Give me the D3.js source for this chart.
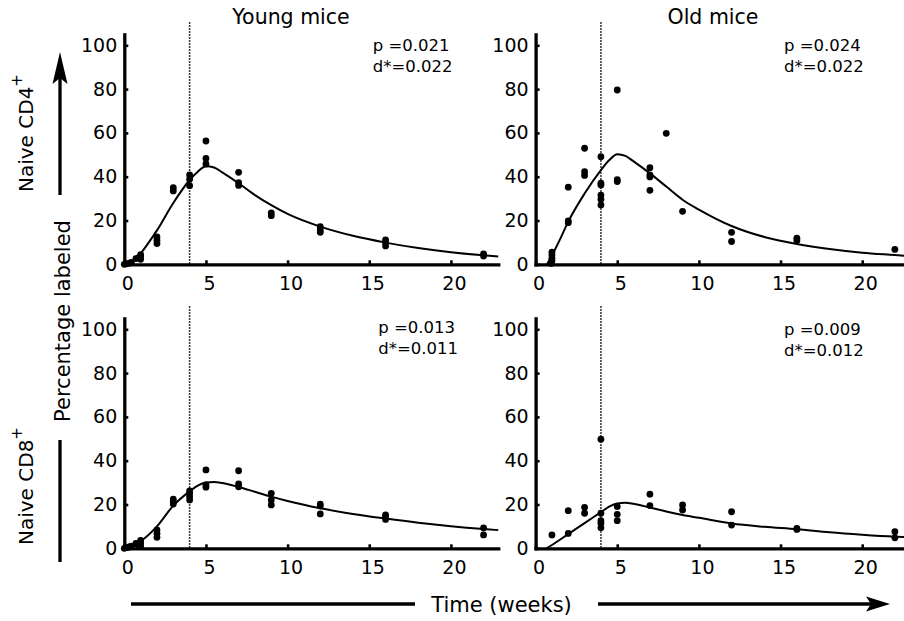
<!DOCTYPE html>
<html>
<head>
<meta charset="utf-8">
<script src="https://cdn.jsdelivr.net/npm/d3@7"></script>
<style>
  body { margin: 0; background: #fff; }
  svg { display: block; font-family: "DejaVu Sans", sans-serif; }
</style>
</head>
<body>
<svg width="904" height="621"></svg>
<script>
// observed points [weeks, % labeled]
const youngCD4Obs = [[0,0],[0.14,0.2],[0.29,0.5],[0.43,0.9],[0.71,2.6],[0.86,2.9],[1,3.6],[1,2.3],[1,4.4],
  [2,12.5],[2,11],[2,9.5],[3,35],[3,33.5],[4,40.8],[4,38.8],[4,35.9],[5,56.3],[5,48.3],[5,45.8],
  [7,42],[7,37.3],[7,36],[9,23.5],[9,22.2],[12,17.2],[12,15.7],[12,14.6],[16,11.1],[16,9.9],[16,8.4],
  [22,4.8],[22,3.8]];
const oldCD4Obs = [[1,5.5],[1,4.2],[1,2.8],[1,1.5],[0.95,0.4],[2,35.2],[2,19.8],[2,19],
  [3,53],[3,42.3],[3,40.6],[4,49.1],[4,37],[4,36.2],[4,31.6],[4,29.7],[4,27.1],[5,79.6],[5,38.6],[5,37.8],
  [7,44.1],[7,40.8],[7,39.9],[7,33.8],[8,59.8],[9,24.2],[12,14.6],[12,10.4],[16,11.9],[16,10.9],[22,6.8]];
const youngCD8Obs = [[0,0],[0.14,0.3],[0.29,0.6],[0.43,1],[0.71,2.2],[0.86,1.4],[1,3.6],[1,2.4],[1,1],
  [2,8.4],[2,6.8],[2,5],[3,22.4],[3,21.3],[3,20.2],[4,26.2],[4,25.1],[4,23.6],[4,22.1],[5,35.8],[5,28.9],[5,27.9],
  [7,35.4],[7,29.4],[7,28.1],[9,25.1],[9,22.1],[9,19.8],[12,20.2],[12,19.3],[12,15.7],[16,15.2],[16,14.4],[16,13.2],
  [22,9.3],[22,6.1]];
const oldCD8Obs = [[1,6.1],[2,17.2],[2,6.8],[3,18.7],[3,16],[4,49.8],[4,16],[4,12.6],[4,11.4],[4,9.4],
  [5,19],[5,15.5],[5,12.6],[7,24.7],[7,19.5],[9,19.8],[9,17.5],[12,16.7],[12,10.6],[16,9.1],[16,8.6],[22,7.6],[22,4.8]];

// fitted curves
const youngCD4Fit = [[0,0],[0.5,1.5],[1,5],[1.5,10],[2,15.5],[3,28],[4,38.5],[4.5,42.3],[5,44.8],[5.5,44.2],[6,42],
  [7,37],[8,31.6],[9,27],[10,23],[12,17.2],[14,13],[16,9.9],[18,7.4],[20,5.5],[22,4.1],[22.9,3.6]];
const oldCD4Fit = [[0.7,0],[1,4],[1.5,11.5],[2,19.5],[3,32.3],[4,43],[4.5,47.5],[5,50.3],[5.5,49.5],[6,47],
  [7,41.5],[8,35.5],[9,29.5],[10,25],[12,17.5],[14,12.5],[16,9.3],[18,7],[20,5.3],[22,4.2],[22.9,3.7]];
const youngCD8Fit = [[0,0],[0.5,1],[1,3.2],[2,10],[3,19.5],[4,26],[4.5,28.6],[5,30],[5.5,30.3],[6,29.8],
  [7,28],[8,25.8],[9,23.6],[10,21.6],[12,18.3],[14,15.7],[16,13.6],[18,11.7],[20,10.1],[22,8.8],[22.9,8.3]];
const oldCD8Fit = [[0.65,0],[1,1.5],[2,6.5],[3,11.5],[4,16.5],[4.5,19],[5,20.5],[5.5,20.8],[6,20.3],
  [7,18.6],[8,16.8],[9,15.2],[10,13.9],[12,11.3],[14,9.8],[16,8.7],[18,7.3],[20,6.2],[22,5.3],[22.9,5]];

const pValues = ['0.021', '0.024', '0.013', '0.009'];
const dValues = ['0.022', '0.022', '0.011', '0.012'];
const xTicks = [0, 5, 10, 15, 20];
const yTicks = [0, 20, 40, 60, 80, 100];
const labelEnd = 4; // end of labelling (weeks)

const svg = d3.select('svg');

const panels = [
  {obs: youngCD4Obs, fit: youngCD4Fit, x0: 124.3, y0: 264.3, tx: 248.4, ty: 51},
  {obs: oldCD4Obs, fit: oldCD4Fit, x0: 535.6, y0: 264.3, tx: 248.4, ty: 51},
  {obs: youngCD8Obs, fit: youngCD8Fit, x0: 124.3, y0: 548.3, tx: 254, ty: 332.5},
  {obs: oldCD8Obs, fit: oldCD8Fit, x0: 535.6, y0: 548.3, tx: 248.4, ty: 335}
];

panels.forEach((p, i) => {
  const x = d3.scaleLinear().domain([0, 22.9]).range([p.x0, p.x0 + 22.9 * 16.33]);
  const y = d3.scaleLinear().domain([0, 105]).range([p.y0, p.y0 - 105 * 2.19]);
  const g = svg.append('g');

  // dotted line at end of labelling
  g.append('line')
    .attr('x1', x(labelEnd)).attr('x2', x(labelEnd))
    .attr('y1', y(105) - 12).attr('y2', y(0))
    .attr('stroke', '#000').attr('stroke-width', 1.6)
    .attr('stroke-dasharray', '1.5,1.5');

  const yAxis = g.append('g')
    .attr('transform', `translate(${x(0)},0)`)
    .call(d3.axisLeft(y).tickValues(yTicks).tickSizeInner(-4).tickSizeOuter(0).tickPadding(7));
  const xAxis = g.append('g')
    .attr('transform', `translate(0,${y(0)})`)
    .call(d3.axisBottom(x).tickValues(xTicks).tickSizeInner(-4).tickSizeOuter(0).tickPadding(12));

  [yAxis, xAxis].forEach(a => {
    a.select('.domain').attr('stroke-width', 3.3).attr('stroke-linecap', 'square');
    a.selectAll('.tick line').attr('stroke-width', 2.6);
    a.selectAll('.tick text').attr('font-size', 19).attr('font-family', 'DejaVu Sans').attr('fill', '#000');
  });
  xAxis.selectAll('.tick text').attr('dx', 3);

  const line = d3.line().x(d => x(d[0])).y(d => y(d[1])).curve(d3.curveMonotoneX);
  g.append('path')
    .attr('d', line(p.fit))
    .attr('fill', 'none').attr('stroke', '#000').attr('stroke-width', 2);

  g.selectAll('circle')
    .data(p.obs)
    .enter().append('circle')
    .attr('cx', d => x(d[0]))
    .attr('cy', d => y(d[1]))
    .attr('r', 3.4)
    .attr('fill', '#000');

  const t = g.append('text')
    .attr('font-size', 16.5).attr('fill', '#000');
  t.append('tspan').attr('x', p.x0 + p.tx).attr('y', p.ty).text('p =' + pValues[i]);
  t.append('tspan').attr('x', p.x0 + p.tx).attr('y', p.ty + 21).text('d*=' + dValues[i]);
});

// column titles
svg.append('text').attr('x', 291).attr('y', 24).attr('text-anchor', 'middle')
  .attr('font-size', 20.5).text('Young mice');
svg.append('text').attr('x', 713).attr('y', 24).attr('text-anchor', 'middle')
  .attr('font-size', 20.5).text('Old mice');

// row labels
const row1 = svg.append('text').attr('transform', 'translate(33,192) rotate(-90)').attr('font-size', 20);
row1.append('tspan').text('Naive CD4');
row1.append('tspan').attr('dy', -11).attr('font-size', 15).text('+');
const row2 = svg.append('text').attr('transform', 'translate(33,545) rotate(-90)').attr('font-size', 20);
row2.append('tspan').text('Naive CD8');
row2.append('tspan').attr('dy', -11).attr('font-size', 15).text('+');

svg.append('text').attr('transform', 'translate(70,321) rotate(-90)')
  .attr('text-anchor', 'middle').attr('font-size', 21).text('Percentage labeled');
svg.append('text').attr('x', 501.5).attr('y', 612)
  .attr('text-anchor', 'middle').attr('font-size', 21).text('Time (weeks)');

// arrows
const arrows = svg.append('g').attr('stroke', '#000').attr('stroke-width', 3.3);
arrows.append('line').attr('x1', 60).attr('x2', 60).attr('y1', 195).attr('y2', 75);
arrows.append('line').attr('x1', 60).attr('x2', 60).attr('y1', 440).attr('y2', 562);
arrows.append('line').attr('x1', 131).attr('x2', 415).attr('y1', 604).attr('y2', 604);
arrows.append('line').attr('x1', 598).attr('x2', 872).attr('y1', 604).attr('y2', 604);
svg.append('path').attr('d', 'M60,52 L67.5,84 L60,78 L52.5,84 Z').attr('fill', '#000');
svg.append('path').attr('d', 'M890,604 L866,596.5 L871,604 L866,611.5 Z').attr('fill', '#000');
</script>
</body>
</html>
